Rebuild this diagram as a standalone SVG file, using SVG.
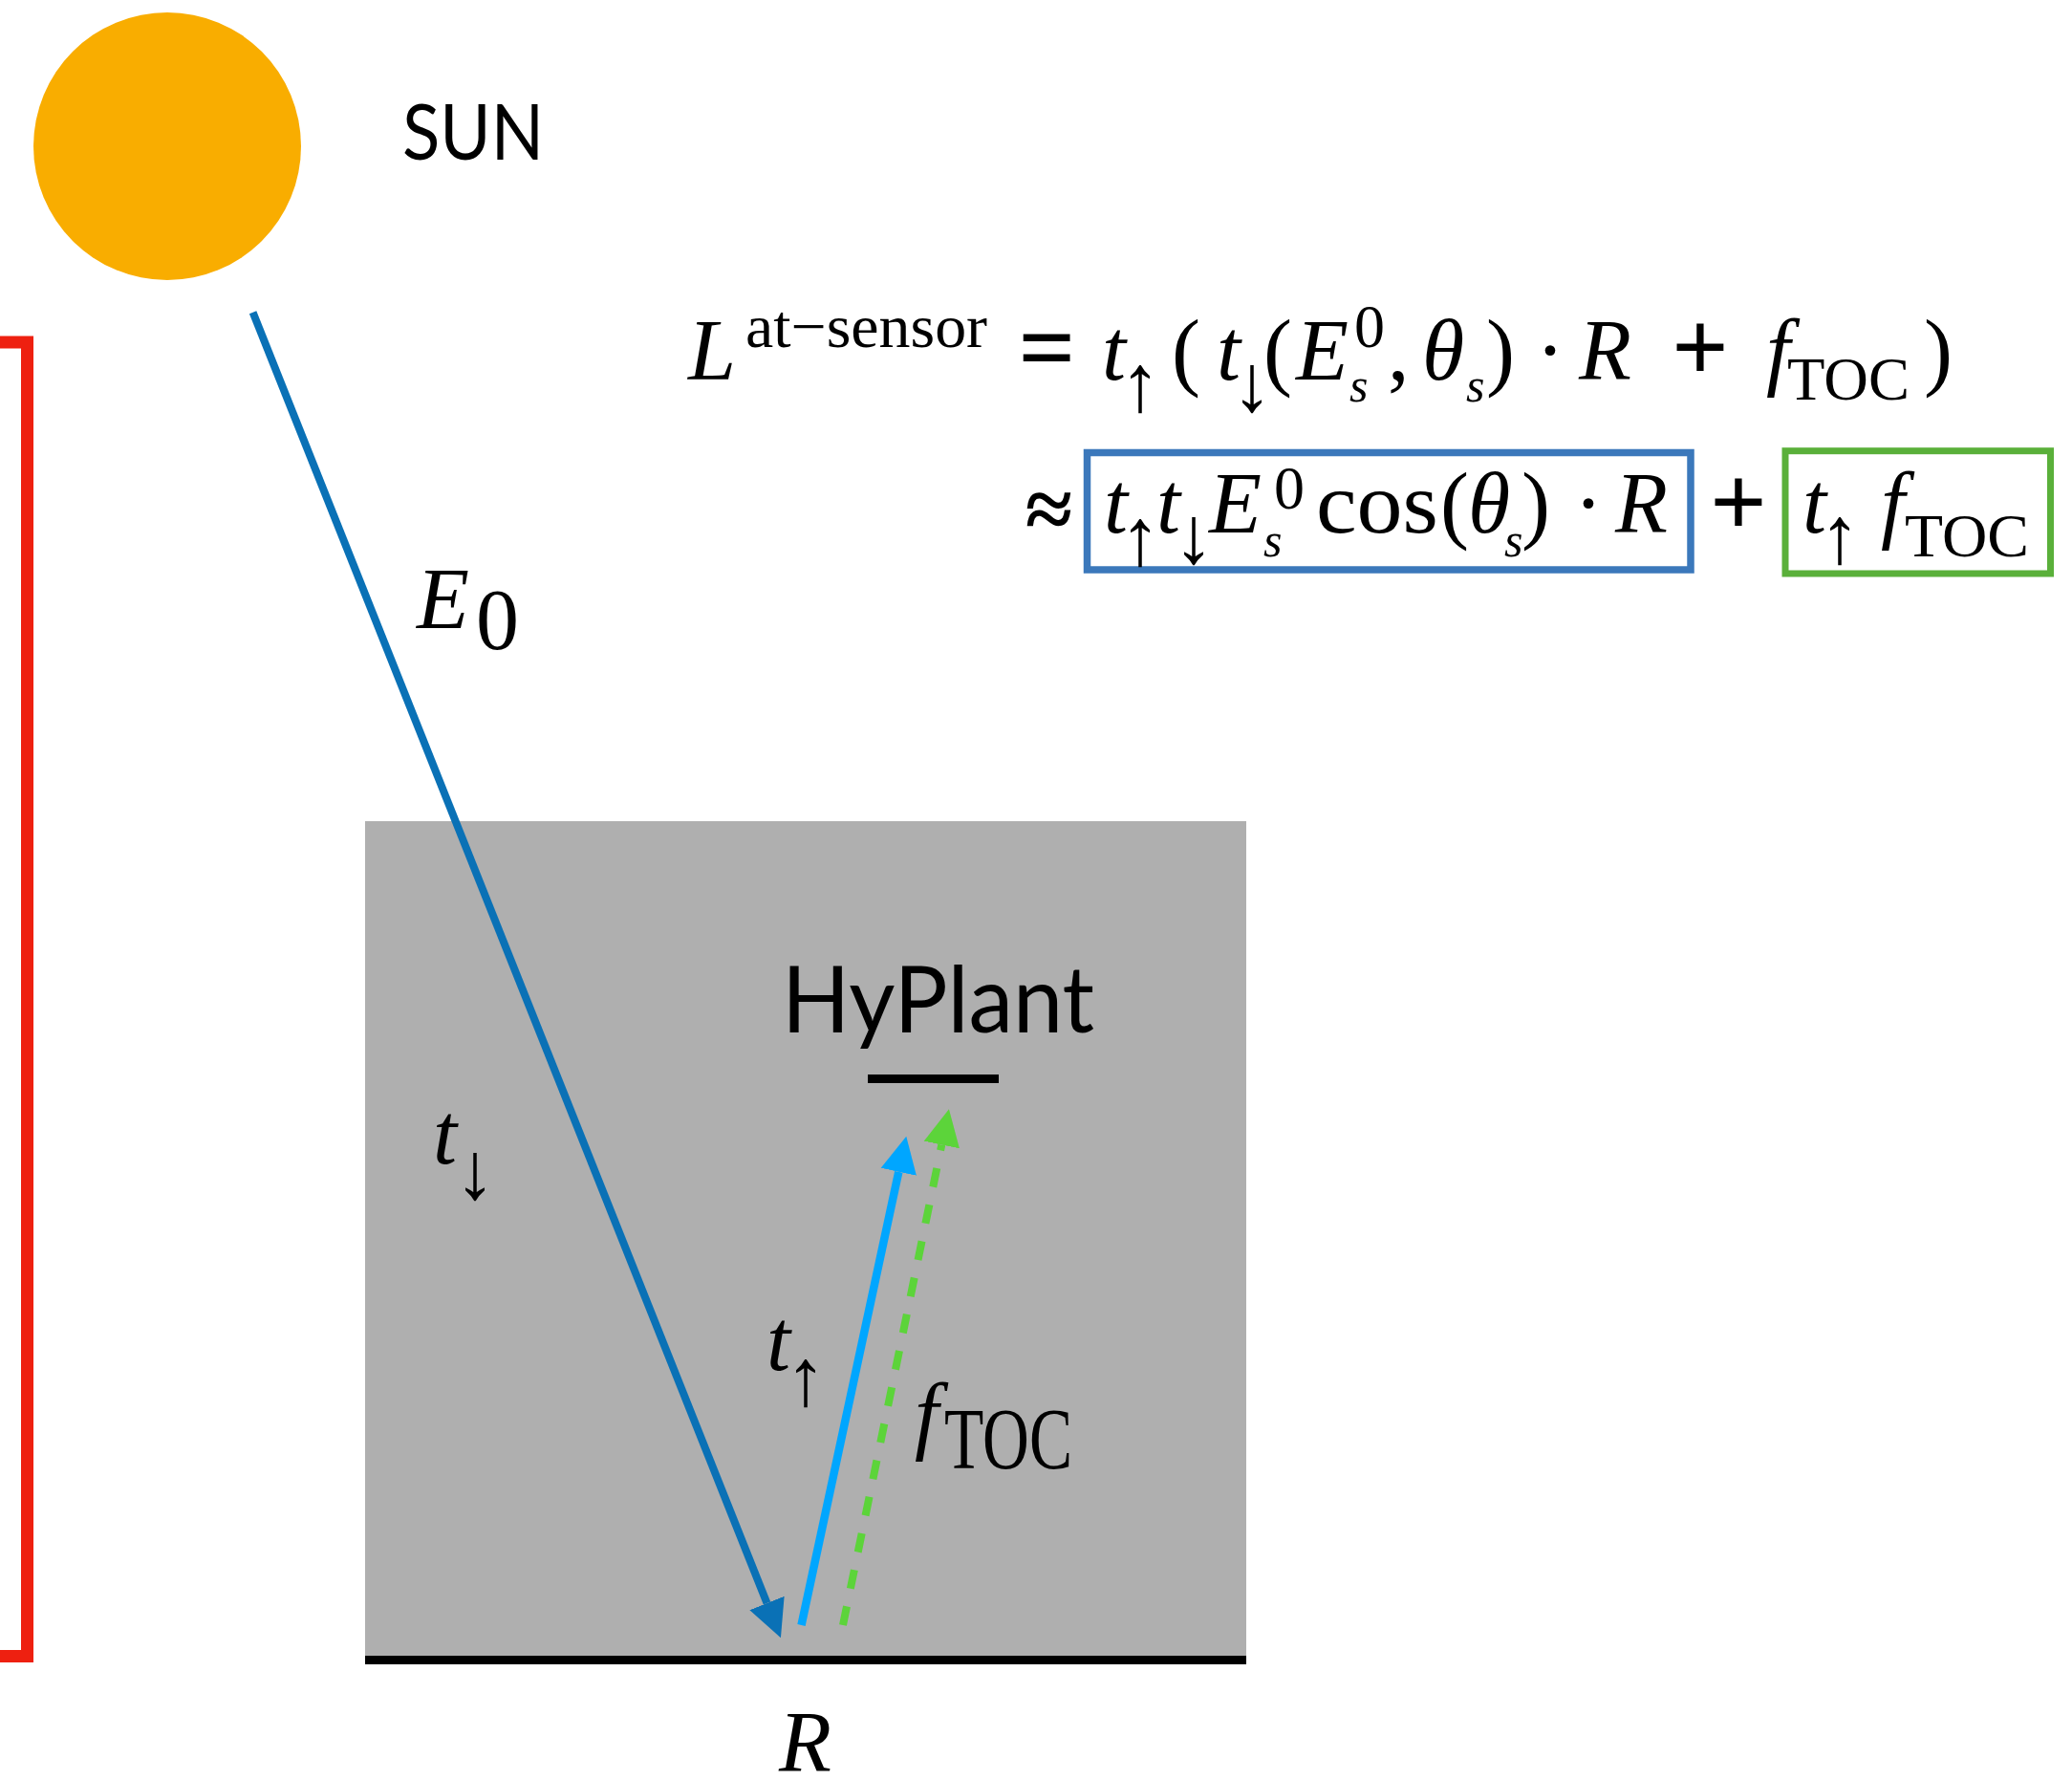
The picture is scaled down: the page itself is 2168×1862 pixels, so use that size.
<svg xmlns="http://www.w3.org/2000/svg" width="2168" height="1862" viewBox="0 0 2168 1862">
<style>
.m{font-family:"Liberation Serif","Times New Roman",serif;font-size:90px;fill:#000}
.i{font-style:italic}
.s{font-size:64px}
.ss{font-size:50px;font-style:italic}
.ar{font-family:"Liberation Serif","Times New Roman",serif;font-size:85px;fill:#000;text-anchor:middle}
.op{font-family:"Liberation Serif","Times New Roman",serif;font-size:105px;font-weight:bold;fill:#000;text-anchor:middle}
.sans{font-family:Lato,"Open Sans",sans-serif;fill:#000}
</style>
<defs>
<marker id="ahDark" markerUnits="userSpaceOnUse" viewBox="0 0 40 40" markerWidth="40" markerHeight="40" refX="0" refY="20" orient="auto"><path d="M0,0.5 L39,20 L0,39.5 z" fill="#0a71b6"/></marker>
<marker id="ahLight" markerUnits="userSpaceOnUse" viewBox="0 0 40 40" markerWidth="40" markerHeight="40" refX="0" refY="20" orient="auto"><path d="M0,1 L38,20 L0,39 z" fill="#00a6ff"/></marker>
<marker id="ahGreen" markerUnits="userSpaceOnUse" viewBox="0 0 40 40" markerWidth="40" markerHeight="40" refX="0" refY="20" orient="auto"><path d="M0,1 L38,20 L0,39 z" fill="#5cd43a"/></marker>
</defs>
<rect width="2168" height="1862" fill="#ffffff"/>

<g id="red-bracket">
<path d="M0,358 H28.5 V1732.5 H0" fill="none" stroke="#ee2010" stroke-width="13"/>
</g>

<g id="sun">
<circle cx="175" cy="153" r="140" fill="#f9ad00"/>
<text class="sans" x="421" y="167" font-size="82" textLength="148" lengthAdjust="spacingAndGlyphs">SUN</text>
</g>

<g id="scene">
<rect x="382" y="859" width="922" height="874" fill="#afafaf"/>
<rect x="382" y="1732" width="922" height="9" fill="#000"/>
</g>

<g id="hyplant">
<text class="sans" x="818" y="1080" font-size="96" textLength="327" lengthAdjust="spacingAndGlyphs">HyPlant</text>
<rect x="908" y="1124" width="137" height="9" fill="#000"/>
</g>

<g id="connectors" fill="none">
<line x1="264.6" y1="326.7" x2="802.5" y2="1677" stroke="#0a71b6" stroke-width="8" marker-end="url(#ahDark)"/>
<line x1="838.5" y1="1700" x2="940.3" y2="1225.8" stroke="#00a6ff" stroke-width="8.5" marker-end="url(#ahLight)"/>
<line x1="882" y1="1700" x2="985.3" y2="1197.5" stroke="#5cd43a" stroke-width="8" stroke-dasharray="20 19" marker-end="url(#ahGreen)"/>
</g>

<g id="labels">
<text class="m i" x="436" y="657" font-size="105">E</text>
<text class="m" x="498" y="679" font-size="72">0</text>
<text class="m i" x="453" y="1217" font-size="100">t</text>
<text class="ar" x="497" y="1254" font-size="98">↓</text>
<text class="m i" x="802" y="1433" font-size="100">t</text>
<text class="ar" x="843" y="1470" font-size="95">↑</text>
<text class="m i" x="957" y="1510" font-size="100">f</text>
<text class="m" x="988" y="1536" font-size="70" textLength="134" lengthAdjust="spacingAndGlyphs">TOC</text>
<text class="m i" x="815" y="1853" font-size="80">R</text>
</g>

<g id="formula-line1">
<text class="m i" x="720" y="397">L</text>
<text class="m s" x="780" y="363" textLength="253" lengthAdjust="spacingAndGlyphs">at−sensor</text>
<text class="op" x="1095.5" y="399">=</text>
<text class="m i" x="1153" y="397">t</text>
<text class="ar" x="1193" y="430">↑</text>
<text class="m" x="1226" y="397">(</text>
<text class="m i" x="1273" y="397">t</text>
<text class="ar" x="1310" y="430">↓</text>
<text class="m" x="1322" y="397">(</text>
<text class="m i" x="1356" y="397">E</text>
<text class="m s" x="1417" y="363">0</text>
<text class="m ss" x="1412" y="420">s</text>
<text class="m" x="1452" y="397">,</text>
<text class="m i" x="1488" y="397">θ</text>
<text class="m ss" x="1534" y="420">s</text>
<text class="m" x="1555" y="397">)</text>
<text class="m" x="1622" y="397" text-anchor="middle">·</text>
<text class="m i" x="1652" y="397">R</text>
<text class="op" x="1779" y="399">+</text>
<text class="m i" x="1848" y="397">f</text>
<text class="m s" x="1870" y="418" textLength="128" lengthAdjust="spacingAndGlyphs">TOC</text>
<text class="m" x="2013" y="397">)</text>
</g>

<g id="formula-line2">
<text class="m" x="1097.5" y="563" font-size="118" font-weight="bold" text-anchor="middle">≈</text>
<g id="term-reflected">
<rect x="1137.5" y="473.5" width="631.5" height="122.5" fill="none" stroke="#3b78bb" stroke-width="7.5"/>
<text class="m i" x="1155" y="557">t</text>
<text class="ar" x="1193" y="591">↑</text>
<text class="m i" x="1210" y="557">t</text>
<text class="ar" x="1249" y="589">↓</text>
<text class="m i" x="1265" y="557">E</text>
<text class="m s" x="1333" y="532">0</text>
<text class="m ss" x="1322" y="582">s</text>
<text class="m" x="1377" y="557" textLength="128" lengthAdjust="spacingAndGlyphs">cos</text>
<text class="m" x="1507" y="557">(</text>
<text class="m i" x="1536" y="557">θ</text>
<text class="m ss" x="1574" y="582">s</text>
<text class="m" x="1592" y="557">)</text>
<text class="m" x="1662" y="557" text-anchor="middle">·</text>
<text class="m i" x="1690" y="557">R</text>
</g>
<text class="op" x="1819" y="561">+</text>
<g id="term-fluorescence">
<rect x="1868" y="471.7" width="277.5" height="128.3" fill="none" stroke="#5ab03a" stroke-width="7"/>
<text class="m i" x="1886" y="557">t</text>
<text class="ar" x="1925" y="589">↑</text>
<text class="m i" x="1968" y="557">f</text>
<text class="m s" x="1993" y="582" textLength="130" lengthAdjust="spacingAndGlyphs">TOC</text>
</g>
</g>
</svg>
